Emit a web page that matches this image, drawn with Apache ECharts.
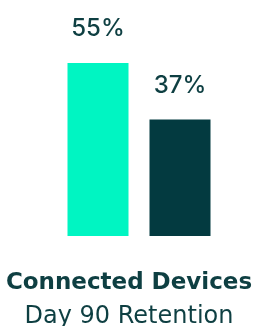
<!DOCTYPE html>
<html>
<head>
<meta charset="utf-8">
<script src="https://cdn.jsdelivr.net/npm/echarts@6.0.0/dist/echarts.min.js"></script>
<style>
  html, body { margin: 0; padding: 0; background: #ffffff; }
  #chart { width: 258px; height: 326px; }
</style>
</head>
<body>
<div id="chart"></div>
<script>
// Chart data
const categories = ['Group A', 'Group B'];
const retention = [55, 37];
const barColors = ['#00F5C2', '#033A40'];

const title = 'Connected Devices';
const subtitle = 'Day 90 Retention';

const chart = echarts.init(document.getElementById('chart'));

const option = {
    animation: false,
    grid: { left: 57, right: 37, top: 63, bottom: 90 },
    title: {
        text: title,
        subtext: subtitle,
        left: 'center',
        top: 267,
        itemGap: 10,
        textStyle: {
            fontFamily: 'DejaVu Sans',
            fontSize: 23,
            fontWeight: 'bold',
            color: '#0E3F42'
        },
        subtextStyle: {
            fontFamily: 'DejaVu Sans',
            fontSize: 24,
            fontWeight: 'normal',
            color: '#0E3F42'
        }
    },
    xAxis: {
        type: 'category',
        data: categories,
        show: false
    },
    yAxis: {
        type: 'value',
        min: 0,
        max: 55,
        show: false
    },
    series: [{
        type: 'bar',
        barWidth: 61,
        data: retention.map((v, i) => ({ value: v, itemStyle: { color: barColors[i] } })),
        label: {
            show: true,
            position: 'top',
            distance: 22,
            formatter: '{c}%',
            fontFamily: 'Inter',
            fontSize: 24,
            fontWeight: 500,
            color: '#0E3F42'
        }
    }]
};

chart.setOption(option);
</script>
</body>
</html>
